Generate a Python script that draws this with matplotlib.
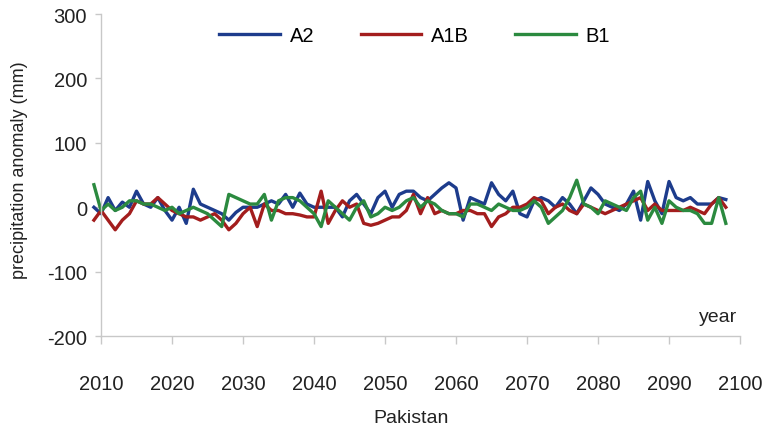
import matplotlib.pyplot as plt

years = list(range(2009, 2099))

a2 = [0, -10, 15, -5, 8, 0, 25, 5, 0, 15,
      -5, -20, 0, -25, 28, 5, 0, -5, -10, -20,
      -8, 0, 0, 0, 5, 10, 5, 20, 0, 22,
      5, 0, 0, 0, 0, -15, 10, 20, 5, -10,
      15, 25, 0, 20, 25, 25, 15, 10, 20, 30,
      38, 30, -20, 15, 10, 5, 38, 20, 10, 25,
      -10, -15, 10, 15, 10, 0, 15, 5, -10, 10,
      30, 20, 5, 0, -5, 5, 25, -20, 40, 10,
      -10, 40, 15, 10, 15, 5, 5, 5, 15, 12]

a1b = [-20, -5, -20, -35, -20, -10, 10, 5, 5, 15,
       5, -5, -10, -15, -15, -20, -15, -10, -20, -35,
       -25, -10, 0, -30, 5, -5, -5, -10, -10, -12,
       -15, -15, 25, -25, -5, 10, 0, 5, -25, -28,
       -25, -20, -15, -15, -5, 20, -10, 15, -10, -5,
       -10, -10, -5, -5, -10, -10, -30, -15, -10, 0,
       0, 5, 15, 10, -10, 0, 5, -5, -10, 5,
       0, -5, -10, -5, 0, 5, 10, 15, -5, 5,
       -5, -5, -5, -5, 0, -5, -10, 5, 15, 0]

b1 = [35, -5, 5, -5, 0, 10, 10, 5, 5, 0,
      -5, 0, -10, -5, 0, -5, -10, -20, -30, 20,
      15, 10, 5, 5, 20, -20, 10, 15, 15, 10,
      0, -10, -30, 10, 0, -10, -20, 0, 10, -15,
      -10, 0, -5, 0, 10, 15, 0, 10, 5, -5,
      -10, -10, -15, 5, 5, 0, -5, 5, 0, -5,
      -5, 0, 10, 0, -25, -15, -5, 15, 42, 5,
      0, -10, 10, 5, 0, -5, 15, 25, -20, 0,
      -25, 10, 0, -5, -5, -10, -25, -25, 15, -25]

plt.rcParams['font.family'] = ['Liberation Sans', 'DejaVu Sans']
plt.rcParams['axes.unicode_minus'] = False
fig = plt.figure(figsize=(7.63, 4.31), dpi=100)
ax = fig.add_axes([0.1324, 0.218, 0.8375, 0.747])

ax.plot(years, a2, color="#1d3c8c", linewidth=2.4, label="A2", clip_on=False)
ax.plot(years, a1b, color="#a31d1d", linewidth=2.4, label="A1B", clip_on=False)
ax.plot(years, b1, color="#2b8a3f", linewidth=2.4, label="B1", clip_on=False)

ax.set_xlim(2010, 2100)
ax.set_ylim(-200, 300)
ax.set_xticks(range(2010, 2101, 10))
ax.set_yticks(range(-200, 301, 100))

for s in ["top", "right"]:
    ax.spines[s].set_visible(False)
for s in ["left", "bottom"]:
    ax.spines[s].set_color("#c8c8c8")
    ax.spines[s].set_linewidth(1.0)

ax.tick_params(axis="x", direction="out", length=6, width=1, color="#c8c8c8",
               pad=21, labelsize=14.5, labelcolor="#222222")
ax.tick_params(axis="y", direction="out", length=4, width=1, color="#c8c8c8",
               pad=6, labelsize=14.5, labelcolor="#222222")

ax.text(0.966, 0.062, "year", transform=ax.transAxes, ha="center", va="center",
        fontsize=14, color="#222222")
fig.text(0.539, 0.030, "Pakistan", ha="center", va="center", fontsize=14, color="#222222")
fig.text(0.026, 0.605, "precipitation anomaly (mm)", rotation=90, ha="center",
         va="center", fontsize=13, color="#222222")

ax.legend(loc="center", bbox_to_anchor=(0.491, 0.932), ncol=3, frameon=False,
          handlelength=3.0, handletextpad=0.5, columnspacing=2.3, fontsize=14.5)

fig.savefig("out.png", dpi=100)
